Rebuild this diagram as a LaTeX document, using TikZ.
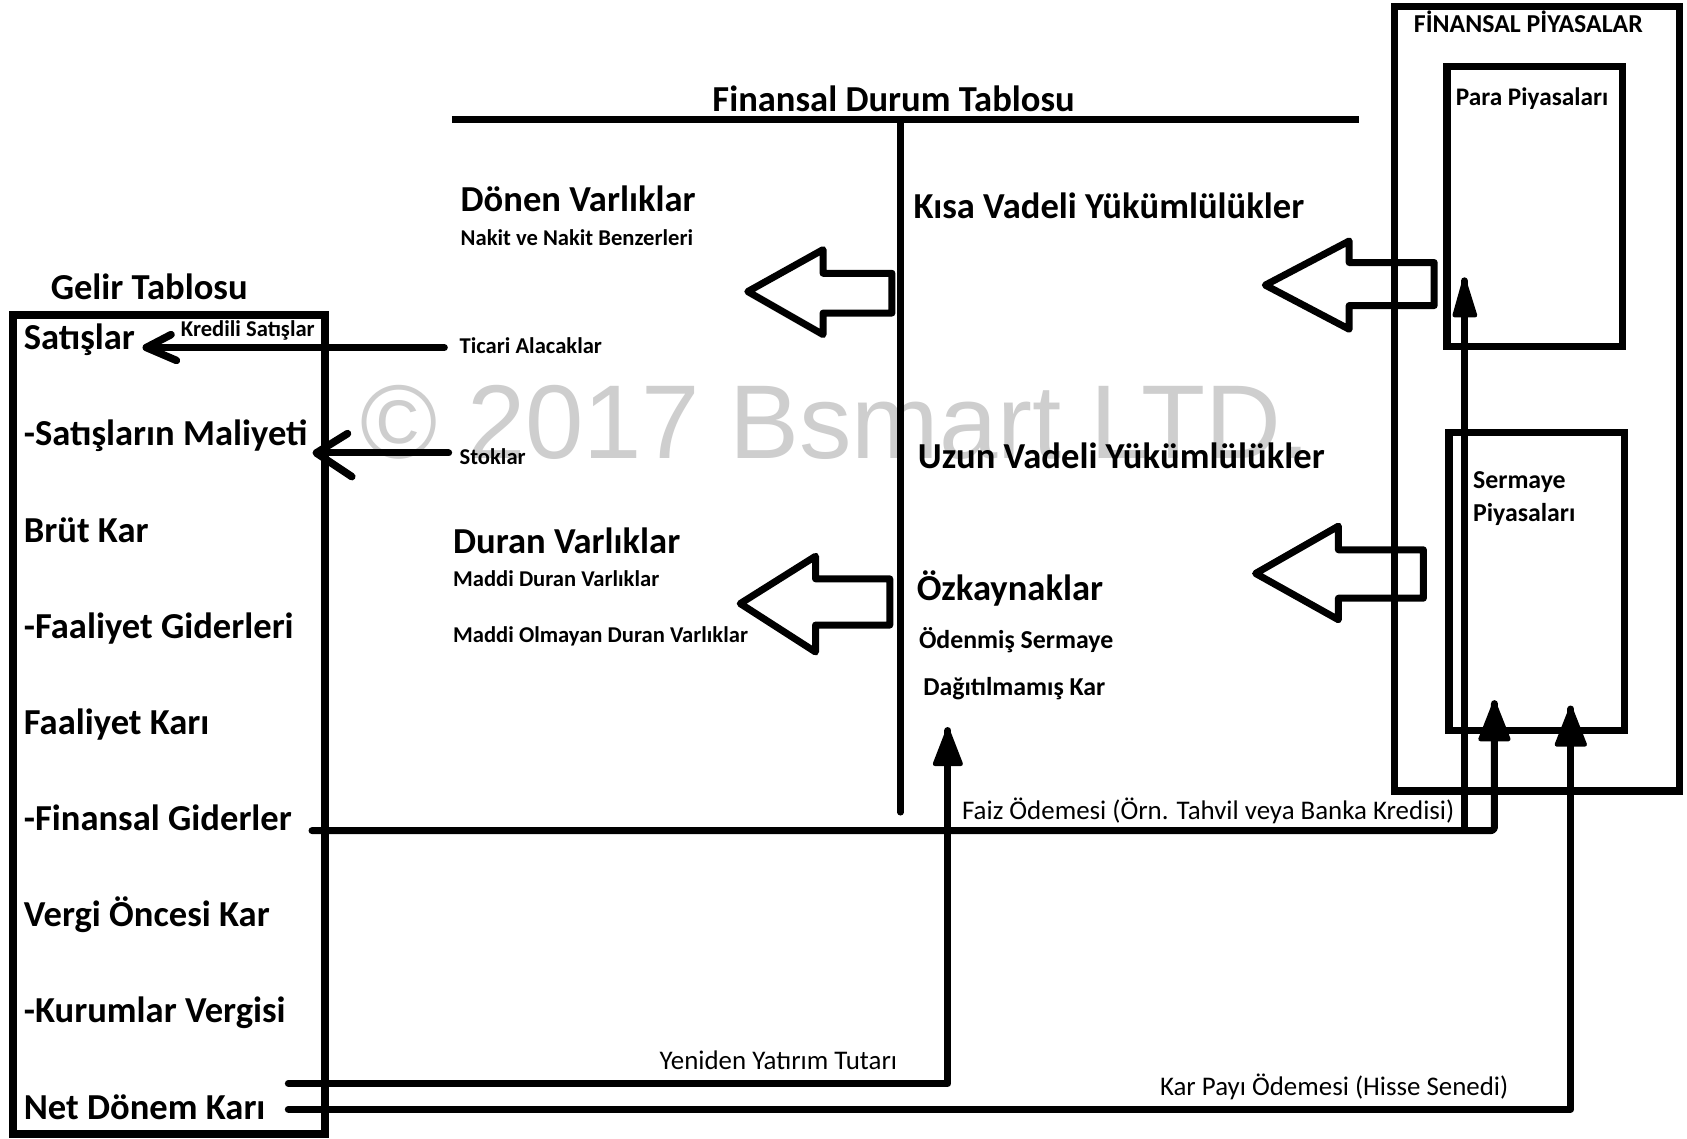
\documentclass[tikz,border=0pt]{standalone}
\usepackage{fontspec}
\setmainfont{Carlito}
\newfontfamily\wmfont{Liberation Sans}
\begin{document}
\begin{tikzpicture}[x=1pt,y=-1pt,
  ln/.style={line width=6.5pt, line cap=round, line join=round},
  boxln/.style={line width=7pt},
  hollow/.style={line width=6.5pt, line join=round},
  vhead/.style={line width=7pt, line cap=round, line join=round},
  uhead/.style={line width=4pt, line join=round, fill=black},
  big/.style={font=\fontsize{34}{40}\selectfont\bfseries, inner sep=0pt, anchor=base west},
  med/.style={font=\fontsize{24}{28}\selectfont\bfseries, inner sep=0pt, anchor=base west},
  sm/.style={font=\fontsize{21}{25}\selectfont\bfseries, inner sep=0pt, anchor=base west},
  lbl/.style={font=\fontsize{25}{30}\selectfont, inner sep=0pt, anchor=base west},
]
\useasboundingbox[fill=white] (0,0) rectangle (1568,1058);

% watermark
\node[inner sep=0pt, anchor=base west, text={rgb,255:red,206;green,206;blue,206},
      font=\wmfont\fontsize{97.5}{110}\selectfont] (wm) at (335,426) {© 2017 Bsmart LTD.};

% ---------- Finansal Durum Tablosu ----------
\node[big] (fdt) at (662,104) {Finansal Durum Tablosu};
\coordinate (hL) at (420,111);
\coordinate (hR) at (1263,111);
\coordinate (vT) at (837,111);
\coordinate (vB) at (837,755);
\draw[line width=6pt] (hL) -- (hR);
\draw[line width=6pt, line cap=round] (vT) -- (vB);

\node[big] (donen) at (428,197) {Dönen Varlıklar};
\node[sm]  (nakit) at (428,228) {Nakit ve Nakit Benzerleri};
\node[sm]  (ticari) at (427,329) {Ticari Alacaklar};
\node[sm]  (stok) at (427,432) {Stoklar};
\node[big] (duran) at (421,514) {Duran Varlıklar};
\node[sm]  (mdv) at (421,545) {Maddi Duran Varlıklar};
\node[sm]  (modv) at (421,597) {Maddi Olmayan Duran Varlıklar};

\node[big] (kvy) at (849,203) {Kısa Vadeli Yükümlülükler};
\node[big] (uvy) at (853,435) {Uzun Vadeli Yükümlülükler};
\node[big] (ozk) at (852,558) {Özkaynaklar};
\node[med] (ods) at (854,603) {Ödenmiş Sermaye};
\node[med] (dk)  at (858,646) {Dağıtılmamış Kar};

% hollow arrows
\draw[hollow] (695,271) -- (765,232) -- (765,254) -- (829,254) -- (829,291) -- (765,291) -- (765,311) -- cycle;
\draw[hollow] (688,561) -- (758,517) -- (758,538) -- (827,538) -- (827,581) -- (758,581) -- (758,606) -- cycle;
\draw[hollow] (1176,265) -- (1254,224) -- (1254,244) -- (1333,244) -- (1333,284) -- (1254,284) -- (1254,306) -- cycle;
\draw[hollow] (1167,533) -- (1244,489) -- (1244,511) -- (1323,511) -- (1323,556) -- (1244,556) -- (1244,576) -- cycle;

% ---------- Gelir Tablosu ----------
\node[big] (gt) at (47,278) {Gelir Tablosu};
\draw[boxln] (12,293) rectangle (302,1054);
\node[big] (g1) at (22,325)   {Satışlar};
\node[big] (g2) at (22,414.4) {-Satışların Maliyeti};
\node[big] (g3) at (22,503.8) {Brüt Kar};
\node[big] (g4) at (22,593.2) {-Faaliyet Giderleri};
\node[big] (g5) at (22,682.6) {Faaliyet Karı};
\node[big] (g6) at (22,772)   {-Finansal Giderler};
\node[big] (g7) at (22,861.4) {Vergi Öncesi Kar};
\node[big] (g8) at (22,950.8) {-Kurumlar Vergisi};
\node[big] (g9) at (22,1040.2) {Net Dönem Karı};
\node[sm] (kredi) at (168,313) {Kredili Satışlar};

% ---------- Finansal Piyasalar ----------
\draw[boxln] (1296,6) rectangle (1561,735);
\node[med] (fp) at (1314,30) {FİNANSAL PİYASALAR};
\draw[boxln] (1345,62) rectangle (1508,322);
\node[font=\fontsize{23.5}{27}\selectfont\bfseries, inner sep=0pt, anchor=base west] (pp) at (1353,98) {Para Piyasaları};
\draw[boxln] (1347,402) rectangle (1510,679);
\node[med] (sp1) at (1369,454) {Sermaye};
\node[med] (sp2) at (1369,485) {Piyasaları};

% ---------- connectors ----------
\coordinate (ticA) at (413,323);
\coordinate (satT) at (136,323);
\draw[ln] (ticA) -- (satT);
\draw[vhead] (satT) ++(23,-12) -- (satT) -- ++(28,12);

\coordinate (stA) at (417,421);
\coordinate (stT) at (294,421);
\draw[ln] (stA) -- (stT);
\draw[vhead] (stT) ++(29,-18) -- (stT) -- ++(33,22);

\coordinate (faizA) at (290,772);
\coordinate (faizC) at (1389,772);
\coordinate (faizT) at (1389,654);
\draw[ln, rounded corners=3pt] (faizA) -- (faizC) -- (faizT);
\filldraw[uhead] (faizT) -- ++(-13,33) -- ++(26,0) -- cycle;

\coordinate (paraA) at (1361,769);
\coordinate (paraT) at (1361,261);
\draw[ln] (paraA) -- (paraT);
\filldraw[uhead] (paraT) -- ++(-9,32) -- ++(19,0) -- cycle;

\node[lbl] (faizL) at (894,762) {Faiz Ödemesi (Örn. Tahvil veya Banka Kredisi)};

\coordinate (yenA) at (268,1007);
\coordinate (yenC) at (881,1007);
\coordinate (yenT) at (881,679);
\draw[ln] (yenA) -- (yenC) -- (yenT);
\filldraw[uhead] (yenT) -- ++(-12,31) -- ++(24,0) -- cycle;
\node[lbl] (yenL) at (613,994) {Yeniden Yatırım Tutarı};

\coordinate (karA) at (268,1031);
\coordinate (karC) at (1460,1031);
\coordinate (karT) at (1460,659);
\draw[ln] (karA) -- (karC) -- (karT);
\filldraw[uhead] (karT) -- ++(-13,33) -- ++(26,0) -- cycle;
\node[lbl] (karL) at (1078,1018) {Kar Payı Ödemesi (Hisse Senedi)};
\end{tikzpicture}
\end{document}
